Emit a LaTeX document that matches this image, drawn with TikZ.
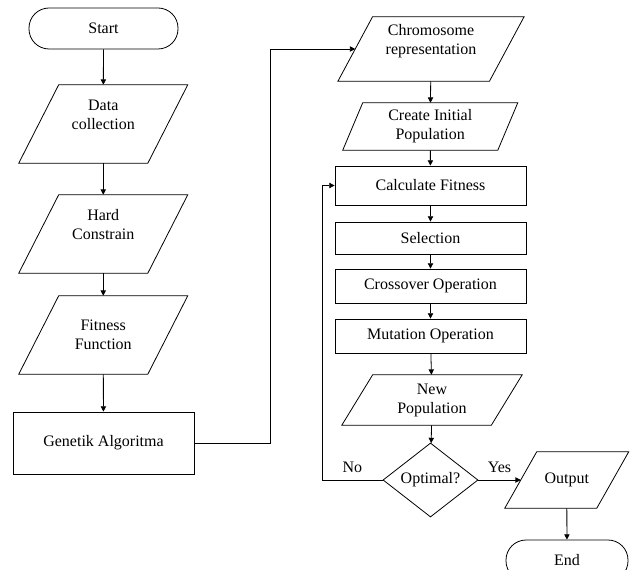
\documentclass[tikz,border=0pt]{standalone}
\usepackage{fontspec}
\setmainfont{Liberation Serif}
\usetikzlibrary{shapes,arrows.meta}

\begin{document}
\begin{tikzpicture}[x=0.75pt,y=-0.75pt]
\tikzstyle{every node}=[font=\fontsize{12}{14.25}\selectfont, align=center, inner sep=0pt]
\tikzstyle{term}=[draw, rectangle, rounded corners=15pt, minimum height=30.75pt, line width=0.6pt]
\tikzstyle{proc}=[draw, rectangle, line width=0.6pt]
\tikzstyle{io}=[rectangle]
\tikzstyle{lift}=[text depth=14pt]
\tikzstyle{dec}=[draw, diamond, minimum width=71.25pt, minimum height=42pt, line width=0.6pt]
\tikzstyle{arr}=[-{Triangle[length=4pt,width=4pt]}, line width=0.6pt]

\useasboundingbox (0,0) rectangle (632,570);

% left column
\path (103.5,28.5) node[term, minimum width=111.75pt] (start) {Start};
\path (103.25,124) node[io, lift, minimum width=96.4pt, minimum height=58.5pt] (data) {Data\\collection};
\path (103.25,234) node[io, lift, minimum width=96.4pt, minimum height=58.5pt] (hard) {Hard\\Constrain};
\path (103.25,335) node[io, minimum width=96.4pt, minimum height=58.5pt] (fit) {Fitness\\Function};
\path (103.5,443) node[proc, minimum width=135.75pt, minimum height=46.5pt] (ga) {Genetik Algoritma};

% right column
\path (431,49) node[io, lift, minimum width=113.25pt, minimum height=48pt] (chrom) {Chromosome\\representation};
\path (430.25,126.5) node[io, minimum width=115.9pt, minimum height=35.25pt] (init) {Create Initial\\Population};
\path (430.5,185.5) node[proc, minimum width=143.25pt, minimum height=29.25pt] (calc) {Calculate Fitness};
\path (430.5,238) node[proc, minimum width=143.25pt, minimum height=24pt] (sel) {Selection};
\path (430.5,286) node[proc, minimum width=143.25pt, minimum height=25.5pt] (cross) {Crossover Operation};
\path (430.5,336) node[proc, minimum width=143.25pt, minimum height=25.5pt] (mut) {Mutation Operation};
\path (432,400) node[io, minimum width=111.75pt, minimum height=37.5pt] (newpop) {New\\Population};
\path (430.5,480) node[dec] (opt) {Optimal?};
\path (566.75,480) node[io, minimum width=68.6pt, minimum height=42pt] (out) {Output};
\path (567,560.5) node[term, minimum width=91.5pt] (end) {End};

\path (270,443) coordinate (jog);
\path (322,480) coordinate (loop);

\foreach \n/\o in {data/15pt,hard/15pt,fit/15pt,chrom/13pt,init/7.5pt,newpop/11.6pt,out/12pt}{
    \draw[line width=0.6pt] ([xshift=\o]\n.north west) -- ([xshift=\o]\n.north east)
        -- ([xshift=-\o]\n.south east) -- ([xshift=-\o]\n.south west) -- cycle;
}

\draw[arr] (start) -- (data);
\draw[arr] (data) -- (hard);
\draw[arr] (hard) -- (fit);
\draw[arr] (fit) -- (ga);
\draw[arr] (ga.east) -- (jog) |- (chrom.west);
\draw[arr] (chrom) -- (init);
\draw[arr] (init) -- (calc);
\draw[arr] (calc) -- (sel);
\draw[arr] (sel) -- (cross);
\draw[arr] (cross) -- (mut);
\draw[arr] (mut) -- (newpop);
\draw[arr] (newpop) -- (opt);
\draw[arr] (opt.west) -- node[above=5pt] (lno) {No} (loop) |- (calc.west);
\draw[arr] (opt.east) -- node[above=5pt] (lyes) {Yes} (out.west);
\draw[arr] (out) -- (end);
\end{tikzpicture}
\end{document}
